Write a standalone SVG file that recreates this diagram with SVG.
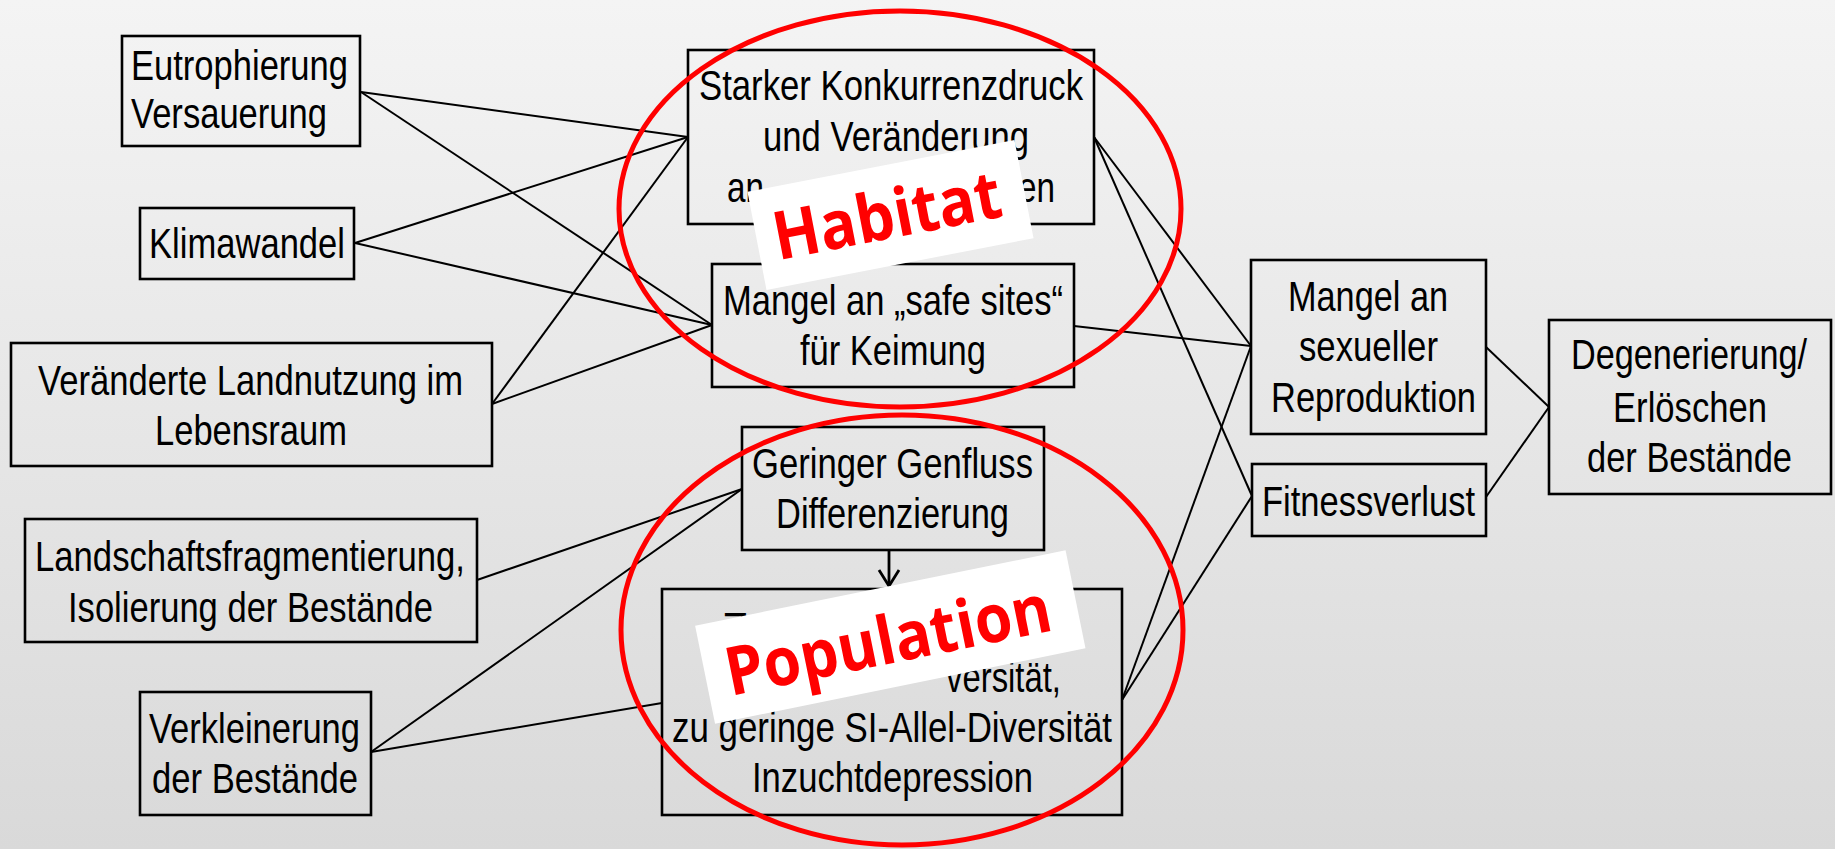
<svg xmlns="http://www.w3.org/2000/svg" width="1835" height="849" viewBox="0 0 1835 849">
<defs>
<linearGradient id="bg" x1="0" y1="0" x2="0" y2="1">
<stop offset="0" stop-color="#f4f4f4"/>
<stop offset="1" stop-color="#d9d9d9"/>
</linearGradient>
<style>
.box{fill:none;stroke:#000;stroke-width:2.6}
.t{font-family:"Liberation Sans Narrow","Arial Narrow","Liberation Sans",Arial,sans-serif;font-size:43px;fill:#000}
.c{fill:none;stroke:#000;stroke-width:2}
.ring{fill:none;stroke:#ff0000;stroke-width:5}
.lab{fill:#fff}
.labt{font-family:"Open Sans","Liberation Sans",sans-serif;font-weight:700;font-size:67px;fill:#ff0000}
</style>
</defs>
<rect x="0" y="0" width="1835" height="849" fill="url(#bg)"/>

<g id="connectors">
<line class="c" x1="361" y1="92" x2="688" y2="137"/>
<line class="c" x1="361" y1="92" x2="712" y2="325"/>
<line class="c" x1="355" y1="243" x2="688" y2="137"/>
<line class="c" x1="355" y1="243" x2="712" y2="325"/>
<line class="c" x1="492" y1="404" x2="688" y2="137"/>
<line class="c" x1="492" y1="404" x2="712" y2="325"/>
<line class="c" x1="477" y1="580" x2="742" y2="489"/>
<line class="c" x1="371" y1="752" x2="742" y2="489"/>
<line class="c" x1="371" y1="752" x2="662" y2="703"/>
<line class="c" x1="1094" y1="137" x2="1251" y2="346"/>
<line class="c" x1="1094" y1="137" x2="1252" y2="496"/>
<line class="c" x1="1074" y1="326" x2="1251" y2="346"/>
<line class="c" x1="1122" y1="700" x2="1251" y2="346"/>
<line class="c" x1="1122" y1="700" x2="1252" y2="496"/>
<line class="c" x1="1486" y1="347" x2="1549" y2="407"/>
<line class="c" x1="1486" y1="497" x2="1549" y2="407"/>
<path d="M889 550 L889 586" fill="none" stroke="#000" stroke-width="2.8"/>
<path d="M879 570 L889 586 L899 570" fill="none" stroke="#000" stroke-width="2.8"/>
</g>

<g id="n-eutrophierung">
<rect class="box" x="122" y="36" width="238" height="110"/>
<text class="t" x="131" y="80" textLength="217" lengthAdjust="spacingAndGlyphs">Eutrophierung</text>
<text class="t" x="131" y="128" textLength="196" lengthAdjust="spacingAndGlyphs">Versauerung</text>
</g>
<g id="n-klimawandel">
<rect class="box" x="140" y="208" width="214" height="71"/>
<text class="t" x="149" y="258" textLength="196" lengthAdjust="spacingAndGlyphs">Klimawandel</text>
</g>
<g id="n-landnutzung">
<rect class="box" x="11" y="343" width="481" height="123"/>
<text class="t" x="38" y="395" textLength="425" lengthAdjust="spacingAndGlyphs">Veränderte Landnutzung im</text>
<text class="t" x="155" y="445" textLength="192" lengthAdjust="spacingAndGlyphs">Lebensraum</text>
</g>
<g id="n-fragmentierung">
<rect class="box" x="25" y="519" width="452" height="123"/>
<text class="t" x="35" y="571" textLength="430" lengthAdjust="spacingAndGlyphs">Landschaftsfragmentierung,</text>
<text class="t" x="68" y="622" textLength="365" lengthAdjust="spacingAndGlyphs">Isolierung der Bestände</text>
</g>
<g id="n-verkleinerung">
<rect class="box" x="140" y="692" width="231" height="123"/>
<text class="t" x="149" y="743" textLength="211" lengthAdjust="spacingAndGlyphs">Verkleinerung</text>
<text class="t" x="152" y="793" textLength="206" lengthAdjust="spacingAndGlyphs">der Bestände</text>
</g>
<g id="n-konkurrenz">
<rect class="box" x="688" y="50" width="406" height="174"/>
<text class="t" x="699" y="100" textLength="384" lengthAdjust="spacingAndGlyphs">Starker Konkurrenzdruck</text>
<text class="t" x="763" y="151" textLength="266" lengthAdjust="spacingAndGlyphs">und Veränderung</text>
<text class="t" x="727" y="202" textLength="37" lengthAdjust="spacingAndGlyphs">an</text>
<text class="t" x="1018" y="202" textLength="37" lengthAdjust="spacingAndGlyphs">en</text>
</g>
<g id="n-safesites">
<rect class="box" x="712" y="264" width="362" height="123"/>
<text class="t" x="723" y="315" textLength="340" lengthAdjust="spacingAndGlyphs">Mangel an „safe sites“</text>
<text class="t" x="800" y="365" textLength="186" lengthAdjust="spacingAndGlyphs">für Keimung</text>
</g>
<g id="n-genfluss">
<rect class="box" x="742" y="427" width="302" height="123"/>
<text class="t" x="752" y="478" textLength="281" lengthAdjust="spacingAndGlyphs">Geringer Genfluss</text>
<text class="t" x="776" y="528" textLength="233" lengthAdjust="spacingAndGlyphs">Differenzierung</text>
</g>
<g id="n-diversitaet">
<rect class="box" x="662" y="589" width="460" height="226"/>
<text class="t" x="722" y="642">Z</text>
<text class="t" x="946" y="692" textLength="115" lengthAdjust="spacingAndGlyphs">versität,</text>
<text class="t" x="672" y="742" textLength="440" lengthAdjust="spacingAndGlyphs">zu geringe SI-Allel-Diversität</text>
<text class="t" x="752" y="792" textLength="281" lengthAdjust="spacingAndGlyphs">Inzuchtdepression</text>
</g>
<g id="n-reproduktion">
<rect class="box" x="1251" y="260" width="235" height="174"/>
<text class="t" x="1288" y="311" textLength="160" lengthAdjust="spacingAndGlyphs">Mangel an</text>
<text class="t" x="1299" y="361" textLength="139" lengthAdjust="spacingAndGlyphs">sexueller</text>
<text class="t" x="1271" y="412" textLength="205" lengthAdjust="spacingAndGlyphs">Reproduktion</text>
</g>
<g id="n-fitness">
<rect class="box" x="1252" y="464" width="234" height="72"/>
<text class="t" x="1262" y="516" textLength="213" lengthAdjust="spacingAndGlyphs">Fitnessverlust</text>
</g>
<g id="n-degenerierung">
<rect class="box" x="1549" y="320" width="282" height="174"/>
<text class="t" x="1571" y="369" textLength="236" lengthAdjust="spacingAndGlyphs">Degenerierung/</text>
<text class="t" x="1613" y="422" textLength="154" lengthAdjust="spacingAndGlyphs">Erlöschen</text>
<text class="t" x="1587" y="472" textLength="205" lengthAdjust="spacingAndGlyphs">der Bestände</text>
</g>

<g id="habitat">
<ellipse class="ring" cx="900" cy="209" rx="281" ry="198"/>
<g transform="rotate(-11 890.5 215)">
<rect class="lab" x="754.5" y="165" width="272" height="100"/>
<text class="labt" x="887" y="238" text-anchor="middle" textLength="231" lengthAdjust="spacingAndGlyphs">Habitat</text>
</g>
</g>
<g id="population">
<ellipse class="ring" cx="902" cy="630" rx="281" ry="215"/>
<g transform="rotate(-11.5 890.3 637)">
<rect class="lab" x="701.3" y="587" width="378" height="100"/>
<text class="labt" x="887.4" y="663" text-anchor="middle" textLength="331" lengthAdjust="spacingAndGlyphs">Population</text>
</g>
</g>
</svg>
